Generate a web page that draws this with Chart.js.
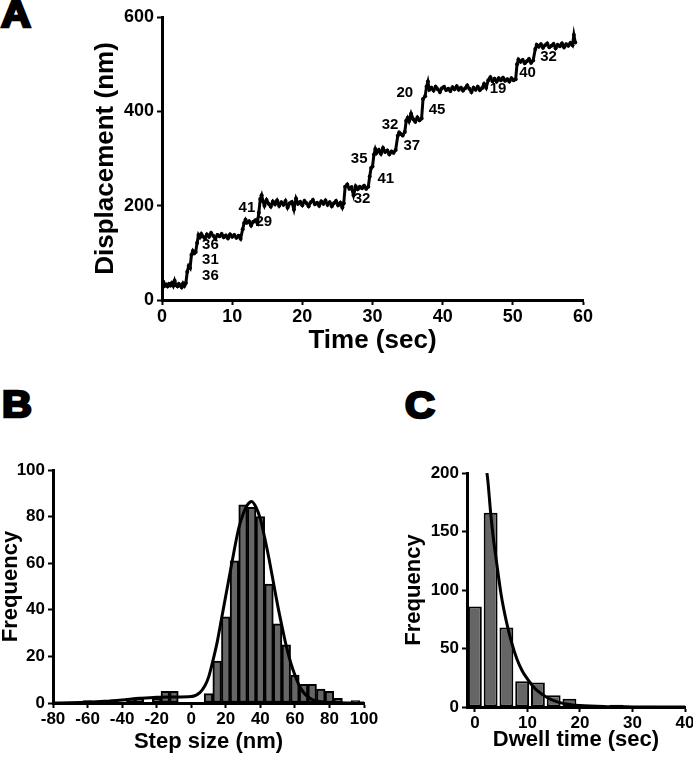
<!DOCTYPE html>
<html>
<head>
<meta charset="utf-8">
<script src="https://cdn.jsdelivr.net/npm/chart.js@4.4.1/dist/chart.umd.min.js"></script>
<style>
  body { margin: 0; background: #fff; }
  #page { position: relative; width: 693px; height: 762px; overflow: hidden; font-family: "Liberation Sans", Arial, sans-serif; }
  canvas { position: absolute; }
  .letter { position: absolute; font-weight: bold; font-size: 36px; line-height: 1; color: #000; -webkit-text-stroke: 2.5px #000; transform-origin: left top; transform: scaleX(1.15); }
</style>
</head>
<body>
<div id="page">
  <div class="letter" style="left:1px; top:-3px;">A</div>
  <div class="letter" style="left:2px; top:387px;">B</div>
  <div class="letter" style="left:405px; top:388px;">C</div>
  <canvas id="chartA" width="693" height="362" style="left:0;top:0;"></canvas>
  <canvas id="chartB" width="380" height="382" style="left:0;top:380px;"></canvas>
  <canvas id="chartC" width="313" height="382" style="left:380px;top:380px;"></canvas>
</div>
<script>
// ---- Panel A: displacement trace (time in sec, displacement in nm)
const traceTime = [0.0,0.2,0.4,0.6,0.8,1.0,1.2,1.4,1.6,1.8,2.0,2.2,2.4,2.6,2.8,3.0,3.2,3.4,3.6,3.8,
  4.0,4.2,4.4,4.6,4.8,5.0,5.2,5.4,5.6,5.8,6.1,6.4,6.7,7.0,7.3,7.6,7.9,8.2,8.5,8.8,
  9.1,9.4,9.7,10.0,10.3,10.6,10.9,11.2,11.5,11.7,11.9,12.1,12.4,12.7,13.0,13.3,13.6,13.8,14.0,14.2,
  14.4,14.6,14.9,15.2,15.5,15.8,16.1,16.4,16.7,17.0,17.3,17.6,17.9,18.2,18.5,18.8,19.1,19.4,19.7,20.0,
  20.3,20.6,20.9,21.2,21.5,21.8,22.1,22.4,22.7,23.0,23.3,23.6,23.9,24.2,24.5,24.8,25.1,25.4,25.7,25.9,
  26.1,26.4,26.7,27.0,27.3,27.6,27.9,28.2,28.5,28.8,29.1,29.4,29.6,29.8,30.0,30.2,30.4,30.6,30.9,31.2,
  31.5,31.8,32.1,32.4,32.7,33.0,33.3,33.6,33.8,34.0,34.3,34.6,34.8,35.0,35.2,35.5,35.8,36.1,36.4,36.7,
  37.0,37.2,37.5,37.7,37.9,38.1,38.4,38.7,39.0,39.3,39.6,39.9,40.2,40.5,40.8,41.1,41.4,41.7,42.0,42.3,
  42.6,42.9,43.2,43.5,43.8,44.1,44.4,44.7,45.0,45.3,45.6,45.9,46.2,46.5,46.8,47.1,47.4,47.7,48.0,48.3,
  48.6,48.9,49.2,49.5,49.8,50.1,50.4,50.6,50.8,51.1,51.4,51.7,52.0,52.3,52.6,52.9,53.2,53.4,53.7,54.0,
  54.3,54.6,54.9,55.2,55.5,55.8,56.1,56.4,56.7,57.0,57.3,57.6,57.9,58.2,58.5,58.7,58.9];
const traceNm = [46,38,30,33,29,34,31,36,30,41,32,29,34,31,27,35,30,36,60,72,
  68,96,104,99,102,121,138,133,140,135,131,139,134,142,136,130,138,135,140,133,
  137,131,139,134,138,132,136,130,150,163,170,164,167,158,166,169,163,185,214,222,
  209,200,212,204,198,209,203,211,200,207,202,210,196,205,208,192,215,204,208,201,
  210,205,199,207,212,203,206,200,209,204,211,202,207,199,205,210,201,206,196,205,
  240,245,236,239,222,241,235,240,237,242,236,240,262,280,283,308,320,312,318,310,
  322,314,317,309,315,312,318,348,355,352,349,356,380,386,379,395,383,378,387,381,
  385,426,432,452,463,446,450,444,452,447,441,449,452,445,448,443,451,447,453,446,
  450,444,449,455,448,441,450,446,452,445,449,458,450,466,472,464,469,463,470,466,
  471,465,468,463,470,466,468,500,510,505,509,502,506,511,503,508,532,541,537,542,
  535,540,544,536,539,543,534,541,538,544,536,542,539,545,540,562,546];

// step sizes written next to the trace, anchored in data units
const stepLabels    = ['36','31','36','41','29','32','41','35','37','32','45','20','19','40','32'];
const stepLabelTime = [6.9, 6.9, 6.9, 12.1,14.5,28.5,31.9,28.1,35.6,32.5,39.2,34.6,47.9,52.1,55.1];
const stepLabelNm   = [117, 85, 51, 195, 165, 214, 257, 299, 326, 371, 403, 439, 447, 481, 515];

// ---- Panel B: step size histogram (nm)
const stepBins  = [-60,-55,-50,-45,-40,-35,-30,-25,-20,-15,-10,-5,0,5,10,15,20,25,30,35,40,45,50,55,60,65,70,75,80,85,90,95];
const stepCount = [1,0,0,0,0,2,2,0,2,5,5,0,0,0,4,18,37,61,85,84,80,51,34,25,12,8,8,6,5,2,0,1];
const stepFitX  = [-80,-70,-60,-50,-40,-30,-20,-10,0,5,8,10,12.5,15,17.5,20,22.5,25,27.5,30,32.5,35,37.5,40,42.5,45,47.5,50,52.5,55,57.5,60,62.5,65,67.5,70,75,80,90,100];
const stepFitY  = [0,0.1,0.3,0.7,1.3,2.0,2.5,2.6,2.8,4.5,7.5,11,18,26,36,46,56,66,75,81,85,86.5,84,79,71,62,52,42,33,24.5,17.5,12,7.5,4.5,2.7,1.5,0.5,0.2,0,0];

// ---- Panel C: dwell time histogram (sec)
const dwellBins  = [0,3,6,9,12,15,18,21,24,27,30,33];
const dwellCount = [86,166,68,22,21,10,7,0,0,2,1,1];
const dwellFitX  = [2.3,2.5,3,3.5,4,5,6,7,8,9,10,11,12,14,16,18,20,25,30,40];
const dwellFitY  = [200,192,166,145,128,96,73,55,41,31,24,18,13.5,7.5,4,2.2,1.2,0.3,0.1,0];

const FONT = 'Liberation Sans';
const bold = size => ({ family: FONT, weight: 'bold', size: size });

function axis(fontSize) {
  return {
    border: { display: true, color: '#000', width: 3 },
    grid: { drawOnChartArea: false, drawTicks: true, tickLength: 5, tickWidth: 2, tickColor: '#000', offset: false },
    ticks: { color: '#000', font: bold(fontSize), padding: 1, maxRotation: 0, autoSkip: false },
    offset: false
  };
}
// pin axis box sizes so the plot areas land where the figure has them
const fixWidth = w => s => { s.width = w; s.paddingTop = 0; s.paddingBottom = 0; };
const fixHeight = h => s => { s.height = h; s.paddingLeft = 0; s.paddingRight = 0; };
const setTicks = list => s => { s.ticks = list.map(v => ({ value: v })); };

const common = {
  responsive: false,
  animation: false,
  devicePixelRatio: 1,
  plugins: { legend: { display: false }, tooltip: { enabled: false } }
};

const stepLabelPlugin = {
  id: 'stepLabels',
  afterDatasetsDraw(chart) {
    const { ctx, scales: { x, y } } = chart;
    ctx.save();
    ctx.font = 'bold 15px "' + FONT + '"';
    ctx.fillStyle = '#000';
    ctx.textAlign = 'center';
    ctx.textBaseline = 'middle';
    stepLabels.forEach((t, i) => {
      ctx.fillText(t, x.getPixelForValue(stepLabelTime[i]), y.getPixelForValue(stepLabelNm[i]));
    });
    ctx.restore();
  }
};

// Panel A
new Chart(document.getElementById('chartA'), {
  type: 'line',
  data: {
    datasets: [{
      data: traceTime.map((t, i) => ({ x: t, y: traceNm[i] })),
      borderColor: '#000',
      borderWidth: 3,
      pointRadius: 2,
      pointBackgroundColor: '#000',
      pointBorderWidth: 0,
      tension: 0
    }]
  },
  options: {
    ...common,
    layout: { padding: { left: 0, top: 17, right: 110, bottom: 0 } },
    scales: {
      x: {
        ...axis(18), type: 'linear', min: 0, max: 60,
        ticks: { ...axis(18).ticks, stepSize: 10 },
        title: { display: true, text: 'Time (sec)', color: '#000', font: { ...bold(26), lineHeight: 1.2 }, padding: { top: 0, bottom: 6 } },
        afterFit: fixHeight(62)
      },
      y: {
        ...axis(18), type: 'linear', min: 0, max: 600,
        ticks: { ...axis(18).ticks, stepSize: 200, padding: 3 },
        title: { display: true, text: 'Displacement (nm)', color: '#000', font: { ...bold(26), lineHeight: 1.2 }, padding: { top: 90, bottom: 0 } },
        afterFit: fixWidth(162)
      }
    }
  },
  plugins: [stepLabelPlugin]
});

// Panel B
new Chart(document.getElementById('chartB'), {
  type: 'bar',
  data: {
    datasets: [{
      type: 'line',
      order: 0,
      data: stepFitX.map((v, i) => ({ x: v, y: stepFitY[i] })),
      borderColor: '#000',
      borderWidth: 3,
      pointRadius: 0,
      cubicInterpolationMode: 'monotone'
    }, {
      type: 'bar',
      order: 1,
      data: stepBins.map((v, i) => ({ x: v, y: stepCount[i] })),
      backgroundColor: '#666666',
      borderColor: '#000',
      borderWidth: 2,
      borderSkipped: false,
      categoryPercentage: 1,
      barPercentage: 1
    }]
  },
  options: {
    ...common,
    layout: { padding: { left: 0, top: 90, right: 16, bottom: 0 } },
    scales: {
      x: {
        ...axis(17), type: 'linear', min: -80, max: 100,
        ticks: { ...axis(17).ticks, stepSize: 20 },
        title: { display: true, text: 'Step size (nm)', color: '#000', font: { ...bold(22), lineHeight: 1.2 }, padding: { top: 0, bottom: 7 } },
        afterFit: fixHeight(59)
      },
      y: {
        ...axis(17), type: 'linear', min: 0, max: 100,
        ticks: { ...axis(17).ticks, stepSize: 20, padding: 3 },
        title: { display: true, text: 'Frequency', color: '#000', font: { ...bold(22), lineHeight: 1 }, padding: { top: 0, bottom: 0 } },
        afterFit: fixWidth(53)
      }
    }
  }
});

// Panel C
new Chart(document.getElementById('chartC'), {
  type: 'bar',
  data: {
    datasets: [{
      type: 'line',
      order: 0,
      data: dwellFitX.map((v, i) => ({ x: v, y: dwellFitY[i] })),
      borderColor: '#000',
      borderWidth: 3,
      pointRadius: 0,
      cubicInterpolationMode: 'monotone'
    }, {
      type: 'bar',
      order: 1,
      data: dwellBins.map((v, i) => ({ x: v, y: dwellCount[i] })),
      backgroundColor: '#666666',
      borderColor: '#000',
      borderWidth: 2,
      borderSkipped: false,
      categoryPercentage: 1,
      barPercentage: 0.88
    }]
  },
  options: {
    ...common,
    layout: { padding: { left: 0, top: 93, right: 8, bottom: 0 } },
    scales: {
      x: {
        ...axis(17), type: 'linear', min: -1.5, max: 40,
        afterBuildTicks: setTicks([0, 10, 20, 30, 40]),
        title: { display: true, text: 'Dwell time (sec)', color: '#000', font: { ...bold(22), lineHeight: 1.2 }, padding: { top: 0, bottom: 9 } },
        afterFit: fixHeight(55)
      },
      y: {
        ...axis(17), type: 'linear', min: 0, max: 200,
        ticks: { ...axis(17).ticks, stepSize: 50, padding: 3 },
        title: { display: true, text: 'Frequency', color: '#000', font: { ...bold(22), lineHeight: 1.2 }, padding: { top: 21, bottom: 0 } },
        afterFit: fixWidth(87)
      }
    }
  }
});
</script>
</body>
</html>
